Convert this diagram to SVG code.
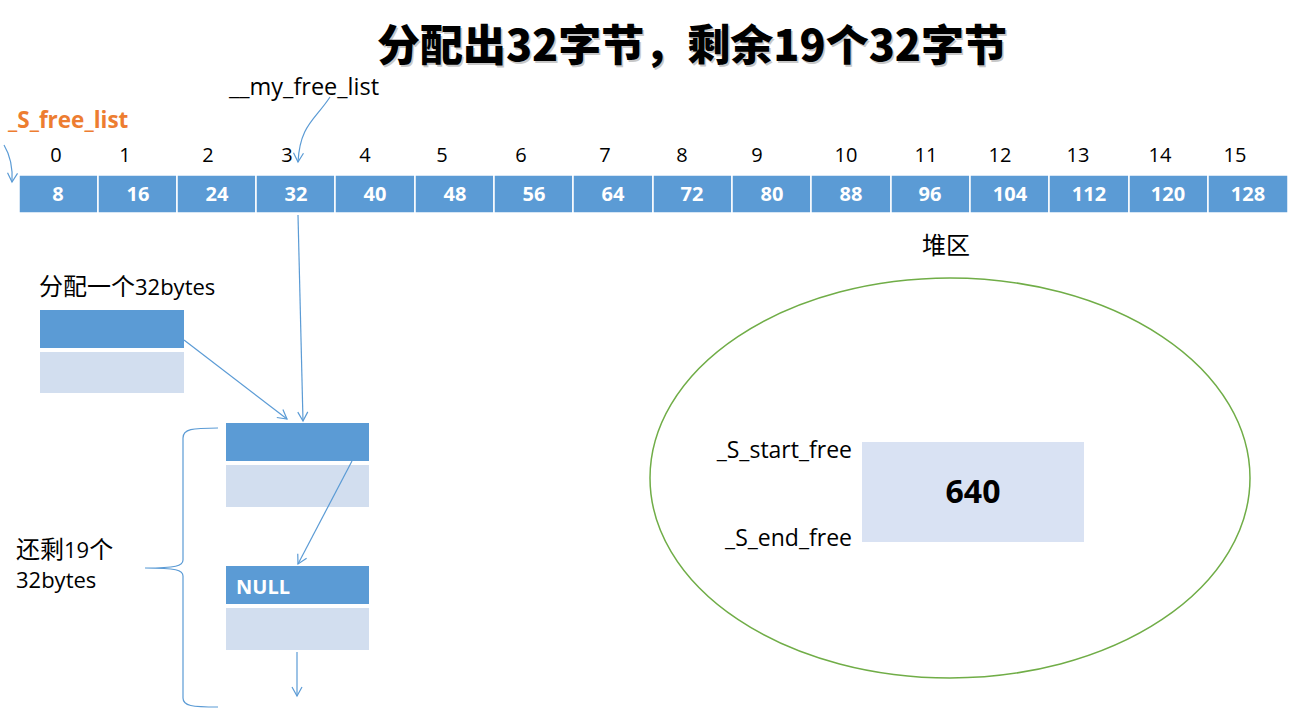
<svg xmlns="http://www.w3.org/2000/svg" width="1305" height="724" viewBox="0 0 1305 724">
<defs>
<style>
.t{font-family:"Open Sans","Noto Sans CJK SC",sans-serif;font-size:22px;fill:#000}
.cn{font-family:"Noto Sans CJK SC",sans-serif;font-size:24px;fill:#000}
.cell{fill:#5B9BD5;stroke:#fff;stroke-width:1.5}
.cv{font-family:"Open Sans",sans-serif;font-size:20px;font-weight:bold;fill:#fff;text-anchor:middle}
.idx{font-family:"Open Sans",sans-serif;font-size:20px;fill:#000;text-anchor:middle}
.blue{fill:#5B9BD5}
.light{fill:#D2DEEF}
.ln{fill:none;stroke:#5B9BD5;stroke-width:1.2}
</style>
<marker id="ah" markerWidth="12" markerHeight="12" refX="10" refY="6" orient="auto" markerUnits="userSpaceOnUse">
<path d="M1,1 L10,6 L1,11" fill="none" stroke="#5B9BD5" stroke-width="1.2"/>
</marker>
</defs>
<rect width="1305" height="724" fill="#fff"/>
<g id="title">
<text x="692" y="61" text-anchor="middle" font-family="Noto Sans CJK SC,sans-serif" font-size="43" font-weight="900" fill="#c8c8c8" dx="1.5" dy="1.5">分配出32字节，剩余19个32字节</text>
<text x="692" y="61" text-anchor="middle" font-family="Noto Sans CJK SC,sans-serif" font-size="43" font-weight="900" fill="#000">分配出32字节，剩余19个32字节</text>
</g>
<g id="labels">
<text x="8" y="128" font-family="Open Sans,sans-serif" font-size="22.5" font-weight="bold" fill="#ED7D31">_S_free_list</text>
<text x="229" y="95" class="t" style="font-size:23.5px">__my_free_list</text>
</g>
<g id="indices">
<text x="56" y="162" class="idx">0</text>
<text x="125" y="162" class="idx">1</text>
<text x="208" y="162" class="idx">2</text>
<text x="287" y="162" class="idx">3</text>
<text x="365" y="162" class="idx">4</text>
<text x="442" y="162" class="idx">5</text>
<text x="521" y="162" class="idx">6</text>
<text x="605" y="162" class="idx">7</text>
<text x="682" y="162" class="idx">8</text>
<text x="757" y="162" class="idx">9</text>
<text x="846" y="162" class="idx">10</text>
<text x="926" y="162" class="idx">11</text>
<text x="1000" y="162" class="idx">12</text>
<text x="1078" y="162" class="idx">13</text>
<text x="1160" y="162" class="idx">14</text>
<text x="1235" y="162" class="idx">15</text>
</g>
<g id="free_list_array">
<rect x="19" y="175" width="79" height="38" class="cell"/><text x="58" y="201" class="cv">8</text>
<rect x="98" y="175" width="79" height="38" class="cell"/><text x="138" y="201" class="cv">16</text>
<rect x="177" y="175" width="79" height="38" class="cell"/><text x="217" y="201" class="cv">24</text>
<rect x="256" y="175" width="79" height="38" class="cell"/><text x="296" y="201" class="cv">32</text>
<rect x="335" y="175" width="80" height="38" class="cell"/><text x="375" y="201" class="cv">40</text>
<rect x="415" y="175" width="79" height="38" class="cell"/><text x="455" y="201" class="cv">48</text>
<rect x="494" y="175" width="79" height="38" class="cell"/><text x="534" y="201" class="cv">56</text>
<rect x="573" y="175" width="80" height="38" class="cell"/><text x="613" y="201" class="cv">64</text>
<rect x="653" y="175" width="79" height="38" class="cell"/><text x="692" y="201" class="cv">72</text>
<rect x="732" y="175" width="79" height="38" class="cell"/><text x="772" y="201" class="cv">80</text>
<rect x="811" y="175" width="80" height="38" class="cell"/><text x="851" y="201" class="cv">88</text>
<rect x="891" y="175" width="79" height="38" class="cell"/><text x="930" y="201" class="cv">96</text>
<rect x="970" y="175" width="79" height="38" class="cell"/><text x="1010" y="201" class="cv">104</text>
<rect x="1049" y="175" width="80" height="38" class="cell"/><text x="1089" y="201" class="cv">112</text>
<rect x="1129" y="175" width="79" height="38" class="cell"/><text x="1168" y="201" class="cv">120</text>
<rect x="1208" y="175" width="80" height="38" class="cell"/><text x="1248" y="201" class="cv">128</text>
</g>
<g id="allocated_block">
<text x="39" y="295" class="cn">分配一个<tspan class="t">32bytes</tspan></text>
<rect x="40" y="310" width="144" height="38" class="blue"/>
<rect x="40" y="352" width="144" height="41" class="light"/>
</g>
<g id="free_block_1">
<rect x="226" y="423" width="143" height="38" class="blue"/>
<rect x="226" y="465" width="143" height="42" class="light"/>
</g>
<g id="free_block_null">
<rect x="226" y="566" width="143" height="38" class="blue"/>
<text x="236" y="594" font-family="Open Sans,sans-serif" font-size="20" font-weight="bold" fill="#fff">NULL</text>
<rect x="226" y="608" width="143" height="42" class="light"/>
</g>
<g id="remaining">
<text x="16" y="558" class="cn">还剩<tspan class="t">19</tspan>个</text>
<text x="16" y="588" class="t">32bytes</text>
<path class="ln" d="M218,428 C192,428 183,429 183,438 L183,560 C183,566 176,568 145,568 C176,568 183,570 183,576 L183,698 C183,706 192,707 218,707"/>
</g>
<g id="heap">
<text x="946" y="254" class="cn" text-anchor="middle">堆区</text>
<ellipse cx="950" cy="478" rx="300" ry="200" fill="none" stroke="#70AD47" stroke-width="1.5"/>
<rect x="862" y="442" width="222" height="100" fill="#D9E2F3"/>
<text x="973" y="503" text-anchor="middle" font-family="Open Sans,sans-serif" font-size="32" font-weight="bold" fill="#000">640</text>
<text x="852" y="458" class="t" text-anchor="end" style="font-size:23px">_S_start_free</text>
<text x="852" y="546" class="t" text-anchor="end" style="font-size:23px">_S_end_free</text>
</g>
<g id="connectors">
<path class="ln" d="M4,145 C10,155 13,165 12,182" marker-end="url(#ah)"/>
<path class="ln" d="M330,97 C315,120 300,125 298,162" marker-end="url(#ah)"/>
<path class="ln" d="M298,215 L303,421" marker-end="url(#ah)"/>
<path class="ln" d="M184,340 L287,419" marker-end="url(#ah)"/>
<path class="ln" d="M352,461 L298,564" marker-end="url(#ah)"/>
<path class="ln" d="M297,652 L297,696" marker-end="url(#ah)"/>
</g>
</svg>
